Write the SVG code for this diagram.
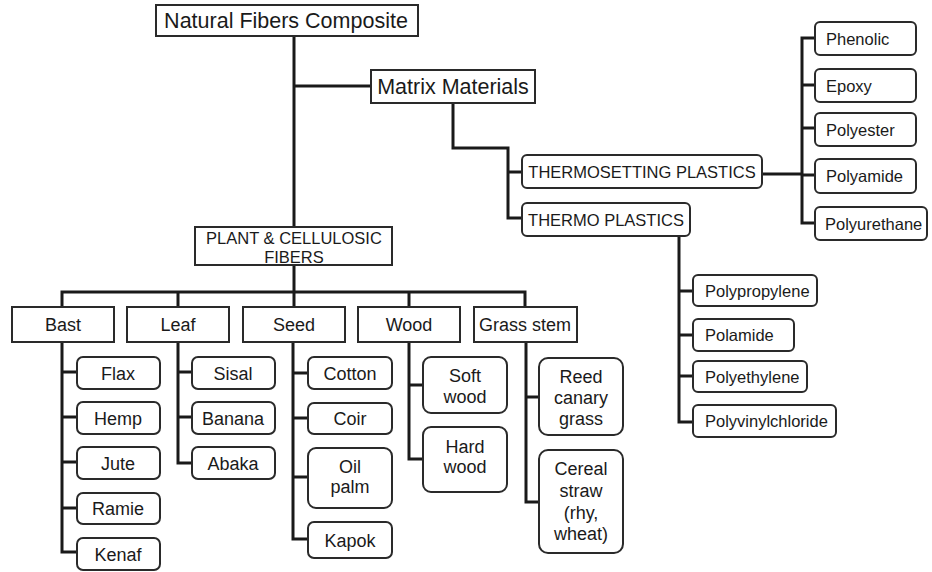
<svg xmlns="http://www.w3.org/2000/svg" width="932" height="572" viewBox="0 0 932 572">
<style>
.bx{fill:#fff;stroke:#2a2a2a;stroke-width:2}
.cn{fill:none;stroke:#1a1a1a;stroke-width:3;stroke-linejoin:miter}
text{font-family:"Liberation Sans",Arial,sans-serif;fill:#1a1a1a;text-anchor:middle}
.l{font-size:21.5px}
.m{font-size:16.5px}
.s{font-size:18px}
.st{text-anchor:start}
</style>
<rect width="932" height="572" fill="#fff"/>
<g id="connectors">
<path class="cn" d="M294 36V227M294 86H371"/>
<path class="cn" d="M453 103V148H508V218H522M508 172H522"/>
<path class="cn" d="M762 174H802M815 38H802V223H815M802 85H815M802 128H815M802 175H815"/>
<path class="cn" d="M679 236V422H693M679 291H693M679 335H693M679 376H693"/>
<path class="cn" d="M294 265V307M62 307V292H525V307M178 292V307M409 292V307"/>
<path class="cn" d="M62 342V552H77M62 372H77M62 417H77M62 462H77M62 508H77"/>
<path class="cn" d="M178 342V463H192M178 372H192M178 417H192"/>
<path class="cn" d="M293 342V539H308M293 373H308M293 418H308M293 477H308"/>
<path class="cn" d="M409 342V459H423M409 385H423"/>
<path class="cn" d="M526 342V502H539M526 397H539"/>
</g>
<g id="natural"><rect class="bx" x="156" y="5" width="262" height="31"/><text class="l" x="286" y="28">Natural Fibers Composite</text></g>
<g id="matrix"><rect class="bx" x="371" y="70" width="164" height="33"/><text class="l" x="453" y="94">Matrix Materials</text></g>
<g id="thermoset"><rect class="bx" x="522" y="155" width="240" height="33" rx="5"/><text class="m" x="642" y="177.5">THERMOSETTING PLASTICS</text></g>
<g id="thermo"><rect class="bx" x="522" y="203" width="168" height="33" rx="5"/><text class="m" x="606" y="225.5">THERMO PLASTICS</text></g>
<g id="phenolic"><rect class="bx" x="815" y="22" width="101" height="33" rx="5"/><text class="m st" x="826" y="44.5">Phenolic</text></g>
<g id="epoxy"><rect class="bx" x="815" y="69" width="101" height="33" rx="5"/><text class="m st" x="826" y="91.5">Epoxy</text></g>
<g id="polyester"><rect class="bx" x="815" y="113" width="101" height="33" rx="5"/><text class="m st" x="826" y="135.5">Polyester</text></g>
<g id="polyamide"><rect class="bx" x="815" y="159" width="101" height="34" rx="5"/><text class="m st" x="826" y="182">Polyamide</text></g>
<g id="polyurethane"><rect class="bx" x="815" y="207" width="112" height="33" rx="5"/><text class="m st" x="825" y="229.5">Polyurethane</text></g>
<g id="polypropylene"><rect class="bx" x="693" y="275" width="124" height="31" rx="5"/><text class="m st" x="705" y="296.5">Polypropylene</text></g>
<g id="polamide"><rect class="bx" x="693" y="319" width="101" height="32" rx="5"/><text class="m st" x="705" y="341">Polamide</text></g>
<g id="polyethylene"><rect class="bx" x="693" y="361" width="114" height="31" rx="5"/><text class="m st" x="705" y="382.5">Polyethylene</text></g>
<g id="pvc"><rect class="bx" x="693" y="405" width="143" height="32" rx="5"/><text class="m st" x="705" y="427">Polyvinylchloride</text></g>
<g id="plant"><rect class="bx" x="195" y="227" width="197" height="38"/><text class="m" x="294" y="244">PLANT &amp; CELLULOSIC</text><text class="m" x="294" y="263">FIBERS</text></g>
<g id="bast"><rect class="bx" x="12" y="307" width="102" height="35"/><text class="s" x="63" y="331">Bast</text></g>
<g id="leaf"><rect class="bx" x="127" y="307" width="102" height="35"/><text class="s" x="178" y="331">Leaf</text></g>
<g id="seed"><rect class="bx" x="243" y="307" width="102" height="35"/><text class="s" x="294" y="331">Seed</text></g>
<g id="wood"><rect class="bx" x="358" y="307" width="102" height="35"/><text class="s" x="409" y="331">Wood</text></g>
<g id="grass"><rect class="bx" x="474" y="307" width="103" height="35"/><text class="s" x="525" y="331">Grass stem</text></g>
<g id="flax"><rect class="bx" x="77" y="357" width="83" height="32" rx="6"/><text class="s" x="118" y="379.5">Flax</text></g>
<g id="hemp"><rect class="bx" x="77" y="402" width="83" height="32" rx="6"/><text class="s" x="118" y="424.5">Hemp</text></g>
<g id="jute"><rect class="bx" x="77" y="447" width="83" height="32" rx="6"/><text class="s" x="118" y="469.5">Jute</text></g>
<g id="ramie"><rect class="bx" x="77" y="493" width="83" height="31" rx="6"/><text class="s" x="118" y="515">Ramie</text></g>
<g id="kenaf"><rect class="bx" x="77" y="538" width="83" height="32" rx="6"/><text class="s" x="118" y="560.5">Kenaf</text></g>
<g id="sisal"><rect class="bx" x="192" y="357" width="83" height="32" rx="6"/><text class="s" x="233" y="379.5">Sisal</text></g>
<g id="banana"><rect class="bx" x="192" y="402" width="83" height="32" rx="6"/><text class="s" x="233" y="424.5">Banana</text></g>
<g id="abaka"><rect class="bx" x="192" y="447" width="83" height="32" rx="6"/><text class="s" x="233" y="469.5">Abaka</text></g>
<g id="cotton"><rect class="bx" x="308" y="357" width="84" height="32" rx="6"/><text class="s" x="350" y="379.5">Cotton</text></g>
<g id="coir"><rect class="bx" x="308" y="403" width="84" height="31" rx="6"/><text class="s" x="350" y="425">Coir</text></g>
<g id="oilpalm"><rect class="bx" x="308" y="448" width="84" height="60" rx="8"/><text class="s" x="350" y="472.5">Oil</text><text class="s" x="350" y="492.5">palm</text></g>
<g id="kapok"><rect class="bx" x="308" y="522" width="84" height="36" rx="6"/><text class="s" x="350" y="546.5">Kapok</text></g>
<g id="softwood"><rect class="bx" x="423" y="357" width="84" height="56" rx="8"/><text class="s" x="465" y="381.5">Soft</text><text class="s" x="465" y="402.5">wood</text></g>
<g id="hardwood"><rect class="bx" x="423" y="427" width="84" height="65" rx="8"/><text class="s" x="465" y="452.5">Hard</text><text class="s" x="465" y="472.5">wood</text></g>
<g id="reed"><rect class="bx" x="539" y="358" width="84" height="77" rx="9"/><text class="s" x="581" y="382.5">Reed</text><text class="s" x="581" y="403.5">canary</text><text class="s" x="581" y="424.5">grass</text></g>
<g id="cereal"><rect class="bx" x="539" y="450" width="84" height="103" rx="9"/><text class="s" x="581" y="474.5">Cereal</text><text class="s" x="581" y="496.5">straw</text><text class="s" x="581" y="518.5">(rhy,</text><text class="s" x="581" y="539.5">wheat)</text></g>
</svg>
